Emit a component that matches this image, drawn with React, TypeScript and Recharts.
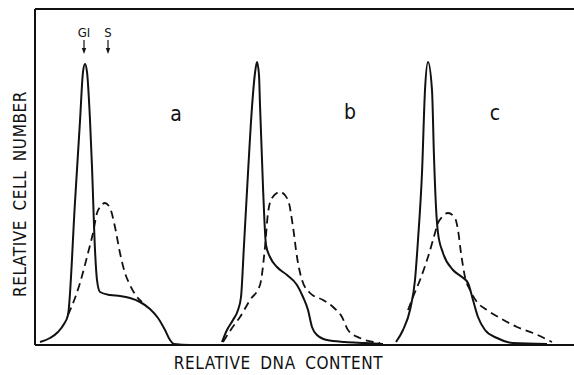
import { LineChart, Line, XAxis, YAxis, ReferenceLine, ReferenceDot } from 'recharts';

type Pt = [number, number];

// relative DNA content (x) vs relative cell number (y)
const panelASolid: Pt[] = [
  [5, 3], [15, 7], [23, 13], [29, 21], [33, 30], [40, 143], [45, 224], [48, 273], [50, 281], [52, 273],
  [55, 225], [57, 178], [60, 95], [62, 65], [65, 53], [75, 50], [85, 49], [95, 47], [105, 43], [115, 36],
  [123, 27], [130, 15], [135, 5], [139, 1], [155, 0], [186, 0],
];
const panelADashed: Pt[] = [
  [33, 30], [40, 47], [45, 62], [53, 92], [58, 112], [62, 132], [65, 138], [70, 142], [75, 137], [80, 118],
  [85, 92], [90, 72], [95, 60], [102, 48], [107, 43],
];
const panelBSolid: Pt[] = [
  [187, 3], [192, 15], [198, 25], [203, 35], [206, 48], [209, 100], [213, 172], [217, 238], [220, 272],
  [222, 283], [224, 270], [225, 240], [228, 158], [231, 100], [235, 88], [242, 78], [252, 70], [262, 60],
  [268, 48], [273, 35], [277, 18], [282, 10], [292, 5], [310, 3], [330, 2], [348, 1],
];
const panelBDashed: Pt[] = [
  [188, 3], [197, 17], [205, 28], [215, 45], [225, 60], [230, 98], [233, 132], [237, 147], [245, 153],
  [253, 145], [258, 118], [262, 88], [267, 65], [275, 52], [288, 45], [298, 38], [307, 28], [313, 15],
  [325, 7], [338, 3], [345, 2],
];
const panelCSolid: Pt[] = [
  [361, 3], [368, 15], [375, 35], [380, 65], [383, 105], [387, 172], [390, 255], [393, 283], [397, 255],
  [399, 188], [401, 138], [403, 112], [408, 92], [418, 75], [427, 68], [433, 62], [438, 45], [443, 28],
  [450, 15], [462, 7], [478, 2], [512, 1],
];
const panelCDashed: Pt[] = [
  [373, 35], [378, 48], [385, 65], [393, 88], [400, 112], [403, 122], [407, 128], [413, 132], [420, 127],
  [423, 115], [426, 92], [430, 68], [435, 55], [442, 43], [452, 35], [465, 27], [482, 18], [498, 12], [517, 3],
];

const panelNames = ['a', 'b', 'c'];
const panelNameX = [141, 315, 460];
const panelNameY = [231, 233, 232];

const phaseNames = ['GI', 'S'];
const phaseX = [49, 73];

const toRows = (pts: Pt[]) => pts.map(([x, y]) => ({ x, y }));

const INK = '#111';
const FONT = '"Liberation Sans Narrow", "DejaVu Sans Condensed", "Liberation Sans", sans-serif';

const series = [
  { key: 'a-solid', pts: panelASolid, dashed: false },
  { key: 'a-dashed', pts: panelADashed, dashed: true },
  { key: 'b-solid', pts: panelBSolid, dashed: false },
  { key: 'b-dashed', pts: panelBDashed, dashed: true },
  { key: 'c-solid', pts: panelCSolid, dashed: false },
  { key: 'c-dashed', pts: panelCDashed, dashed: true },
];

const YTitle = ({ viewBox }: any) => {
  const cx = viewBox.x + viewBox.width / 2 + 2;
  const cy = viewBox.y + viewBox.height / 2 + 17;
  return (
    <text
      x={cx}
      y={cy}
      transform={`rotate(-90 ${cx} ${cy})`}
      textAnchor="middle"
      dominantBaseline="central"
      fill={INK}
      fontFamily={FONT}
      fontSize={17}
      letterSpacing={0.6}
      wordSpacing={4}
    >
      RELATIVE CELL NUMBER
    </text>
  );
};

const XTitle = ({ viewBox }: any) => {
  const cx = viewBox.x + viewBox.width / 2 - 26;
  return (
    <text
      x={cx}
      y={viewBox.y + 24}
      textAnchor="middle"
      fill={INK}
      fontFamily={FONT}
      fontSize={17}
      letterSpacing={0.6}
      wordSpacing={4}
    >
      RELATIVE DNA CONTENT
    </text>
  );
};

// small down arrow drawn under the GI / S marks
const DownArrow = ({ cx, cy }: any) => (
  <g>
    <line x1={cx} y1={cy - 7} x2={cx} y2={cy + 2} stroke={INK} strokeWidth={1.2} />
    <path d={`M${cx - 2.2},${cy + 1} L${cx + 2.2},${cy + 1} L${cx},${cy + 7} Z`} fill={INK} />
  </g>
);

export default function App() {
  return (
    <div style={{ position: 'absolute', left: 0, top: 0, background: '#fff' }}>
      <LineChart width={574} height={375} margin={{ top: 9, right: 0, bottom: 0, left: 0 }}>
        <XAxis
          type="number"
          dataKey="x"
          domain={[0, 539]}
          tick={false}
          tickLine={false}
          height={30}
          axisLine={{ stroke: INK, strokeWidth: 2 }}
          label={{ content: XTitle }}
        />
        <YAxis
          type="number"
          dataKey="y"
          domain={[0, 336]}
          tick={false}
          tickLine={false}
          width={35}
          axisLine={{ stroke: INK, strokeWidth: 2 }}
          label={{ content: YTitle }}
        />
        <ReferenceLine y={336} stroke={INK} strokeWidth={2} />
        {series.map((s) => (
          <Line
            key={s.key}
            data={toRows(s.pts)}
            dataKey="y"
            type="monotone"
            stroke={INK}
            strokeWidth={s.dashed ? 1.8 : 2}
            strokeDasharray={s.dashed ? '8 5' : undefined}
            dot={false}
            activeDot={false}
            isAnimationActive={false}
          />
        ))}
        {panelNames.map((n, i) => (
          <ReferenceDot
            key={n}
            x={panelNameX[i]}
            y={panelNameY[i]}
            r={0}
            fill="none"
            stroke="none"
            label={{ value: n, position: 'center', fill: INK, fontSize: 21, fontFamily: FONT }}
          />
        ))}
        {phaseNames.map((n, i) => (
          <ReferenceDot
            key={n}
            x={phaseX[i]}
            y={313}
            r={0}
            fill="none"
            stroke="none"
            label={{ value: n, position: 'center', fill: INK, fontSize: 13, fontFamily: FONT }}
          />
        ))}
        {phaseNames.map((n, i) => (
          <ReferenceDot
            key={`${n}-arrow`}
            x={phaseX[i]}
            y={298}
            r={3}
            shape={DownArrow}
          />
        ))}
      </LineChart>
    </div>
  );
}
